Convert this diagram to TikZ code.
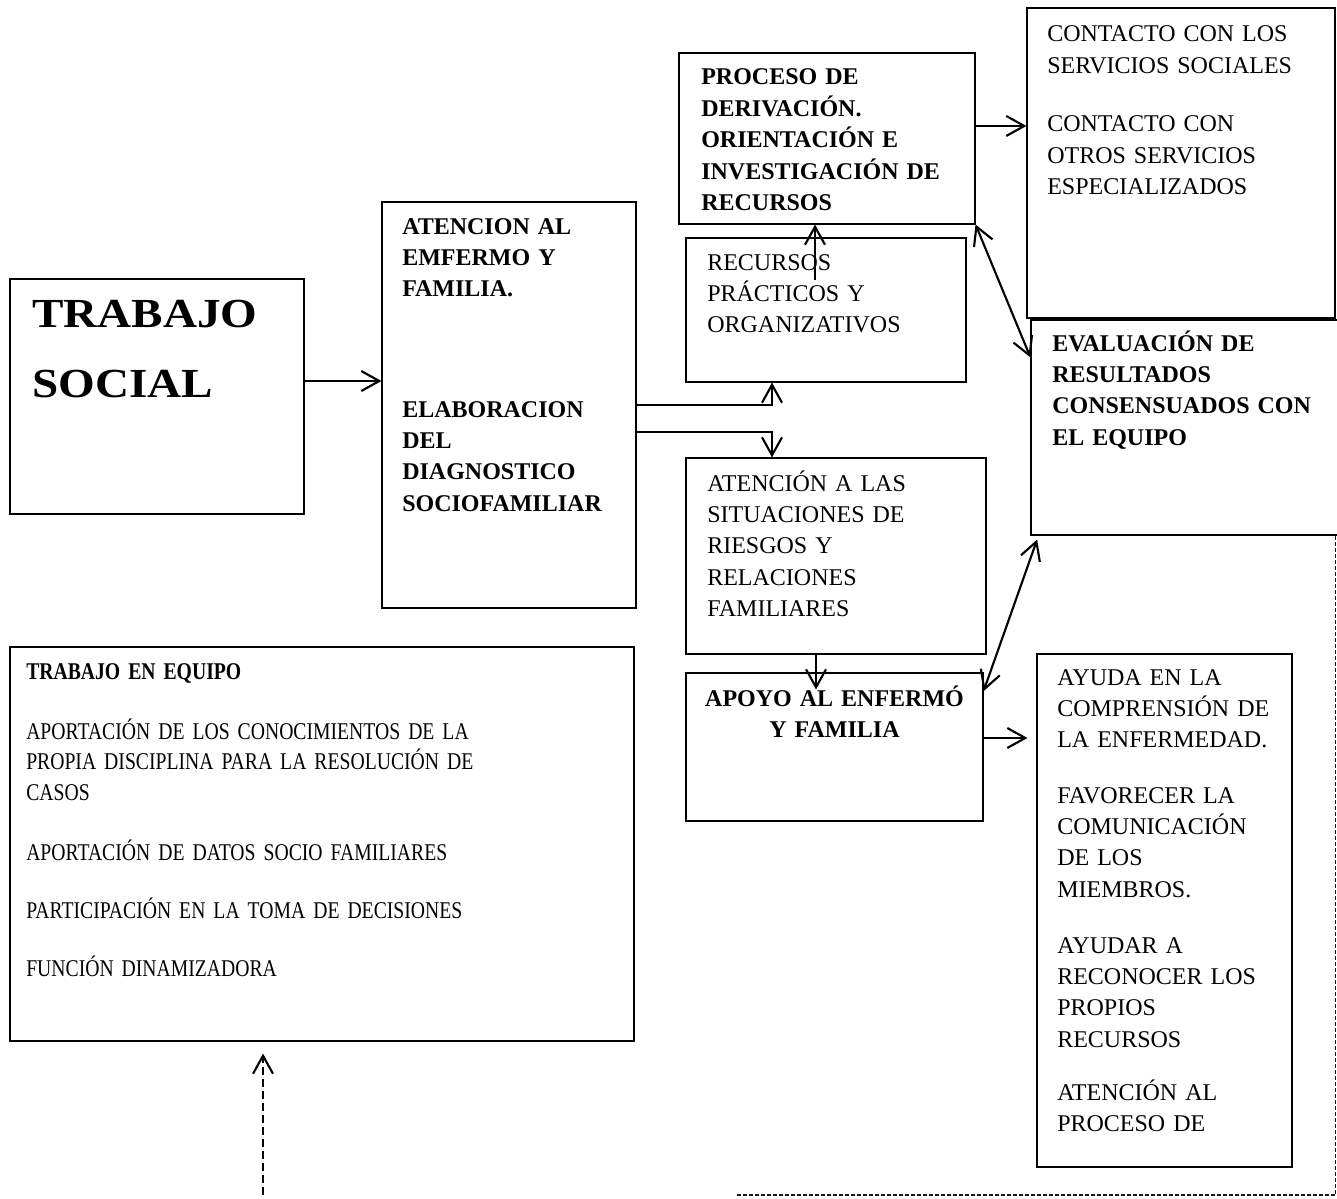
\documentclass[tikz,border=0pt]{standalone}
\usepackage{fontspec}
\setmainfont{Liberation Serif}
\newfontfamily\condfont[FakeStretch=0.82,WordSpace=0.8]{Liberation Serif}
\newfontfamily\widefont[FakeStretch=1.14]{Liberation Serif}
\usetikzlibrary{arrows.meta,calc,fit}
\tikzset{
  barb/.tip={Straight Barb[length=13.5pt,width=15pt,line width=1.6pt]},
  box/.style={draw=black, line width=0.8pt, inner sep=0pt, rectangle},
  txt/.style={anchor=base west, inner sep=0pt, text width=300pt, align=left,
              font=\fontsize{18}{23.6}\selectfont},
  btxt/.style={txt, font=\fontsize{18}{23.6}\selectfont\bfseries},
  bigtxt/.style={txt, font=\widefont\fontsize{31}{52.5}\selectfont\bfseries},
  ctxt/.style={txt, text width=420pt, font=\condfont\fontsize{18}{22.9}\selectfont},
  cbtxt/.style={txt, text width=420pt, font=\condfont\fontsize{18}{22.9}\selectfont\bfseries},
  arr/.style={line width=1.6pt, -barb},
  dbl/.style={line width=1.6pt, barb-barb},
  dsh/.style={line width=1pt, black!90, dash pattern=on 3pt off 1.5pt},
  dasharr/.style={line width=1.6pt, dash pattern=on 6pt off 3pt, -barb},
}
\begin{document}
\begin{tikzpicture}[x=0.75pt,y=-0.75pt]
\fill[white] (0,0) rectangle (1337,1198);
\useasboundingbox (0,0) rectangle (1337,1198);

% boxes
\node[box, fit={(10,279) (304,514)}] (TS) {};
\node[box, fit={(382,202) (636,608)}] (AT) {};
\node[box, fit={(679,53) (975,224)}] (PR) {};
\node[box, fit={(1027,8) (1335,318)}] (CT) {};
\node[box, fit={(686,238) (966,382)}] (RE) {};
\node[box, fit={(1031,320) (1340,535)}] (EV) {};
\node[box, fit={(686,458) (986,654)}] (ATN) {};
\node[box, fit={(686,673) (983,821)}] (AP) {};
\node[box, fit={(1037,654) (1292,1167)}] (AY) {};
\node[box, fit={(10,647) (634,1041)}] (TE) {};

% texts
\node[bigtxt] (tTS) at (32,327) {TRABAJO\\SOCIAL};
\node[btxt] (tAT1) at (402,234) {ATENCION AL\\EMFERMO Y\\FAMILIA.};
\node[btxt] (tAT2) at (402,417) {ELABORACION\\DEL\\DIAGNOSTICO\\SOCIOFAMILIAR};
\node[btxt] (tPR) at (701,85) {PROCESO DE\\DERIVACIÓN.\\ORIENTACIÓN E\\INVESTIGACIÓN DE\\RECURSOS};
\node[txt] (tCT1) at (1047,42) {CONTACTO CON LOS\\SERVICIOS SOCIALES};
\node[txt] (tCT2) at (1047,132) {CONTACTO CON\\OTROS SERVICIOS\\ESPECIALIZADOS};
\node[txt] (tRE) at (707,270) {RECURSOS\\PRÁCTICOS Y\\ORGANIZATIVOS};
\node[txt] (tATN) at (707,491) {ATENCIÓN A LAS\\SITUACIONES DE\\RIESGOS Y\\RELACIONES\\FAMILIARES};
\node[btxt, anchor=base, text width=220pt, align=center] (tAP) at (834.5,706) {APOYO AL ENFERMÓ\\Y FAMILIA};
\node[btxt] (tEV) at (1052,351) {EVALUACIÓN DE\\RESULTADOS\\CONSENSUADOS CON\\EL EQUIPO};
\node[txt] (tAY1) at (1057,685) {AYUDA EN LA\\COMPRENSIÓN DE\\LA ENFERMEDAD.};
\node[txt] (tAY2) at (1057,803) {FAVORECER LA\\COMUNICACIÓN\\DE LOS\\MIEMBROS.};
\node[txt] (tAY3) at (1057,953) {AYUDAR A\\RECONOCER LOS\\PROPIOS\\RECURSOS};
\node[txt] (tAY4) at (1057,1100) {ATENCIÓN AL\\PROCESO DE};
\node[cbtxt] (tTE0) at (26,679) {TRABAJO EN EQUIPO};
\node[ctxt] (tTE1) at (26,739) {APORTACIÓN DE LOS CONOCIMIENTOS DE LA\\PROPIA DISCIPLINA PARA LA RESOLUCIÓN DE\\CASOS};
\node[ctxt] (tTE2) at (26,860) {APORTACIÓN DE DATOS SOCIO FAMILIARES};
\node[ctxt] (tTE3) at (26,918) {PARTICIPACIÓN EN LA TOMA DE DECISIONES};
\node[ctxt] (tTE4) at (26,976) {FUNCIÓN DINAMIZADORA};

% connectors
\coordinate (a1) at ([yshift=11.6pt]TS.east);
\draw[arr] (a1) -- (a1 -| AT.west);

\coordinate (a2) at ([xshift=-40.5pt]RE.south);
\draw[arr] (AT.east) -| (a2);

\coordinate (a3s) at ([yshift=-20.25pt]AT.east);
\coordinate (a3e) at ([xshift=-48pt]ATN.north);
\draw[arr] (a3s) -| (a3e);

\coordinate (a4) at ([xshift=-8.25pt,yshift=-32.25pt]RE.north);
\draw[arr] (a4) -- (a4 |- PR.south);

\coordinate (a5) at ([yshift=9.4pt]PR.east);
\draw[arr] (a5) -- (a5 -| CT.west);

\draw[dbl] (PR.south east) -- ([yshift=-28.5pt]EV.north west);

\coordinate (a7) at ([xshift=-15pt]ATN.south);
\path (a7 |- AP.north) coordinate (a7t);
\draw[arr] (a7) -- ([yshift=-12.75pt]a7t);

\draw[dbl] ([yshift=-14pt]AP.north east) -- ([xshift=5pt,yshift=-3pt]EV.south west);

\coordinate (a9) at ([yshift=6.75pt]AP.east);
\path (a9 -| AY.west) coordinate (a9t);
\draw[arr] (a9) -- ([xshift=-6.75pt]a9t);

\coordinate (dEnd) at (735,1195);
\draw[dsh] ([xshift=-4pt]EV.south east) |- (dEnd);

\coordinate (dStart) at (263,1195);
\path (dStart |- TE.south) coordinate (dTop);
\draw[dasharr] (dStart) -- ([yshift=-9pt]dTop);
\end{tikzpicture}
\end{document}
